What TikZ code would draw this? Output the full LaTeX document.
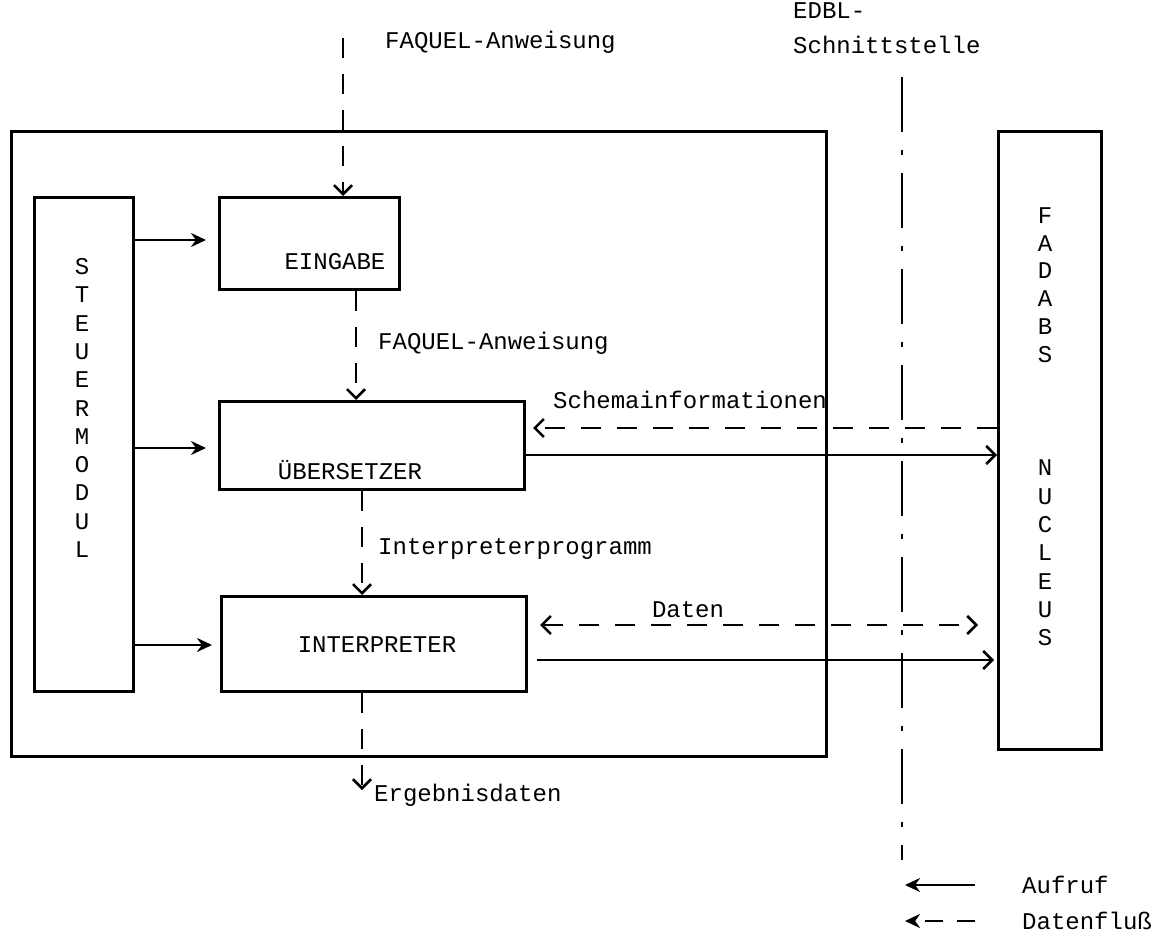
\documentclass[tikz,border=0pt]{standalone}
\usepackage{fontspec}
\setmonofont{Liberation Mono}
\usetikzlibrary{arrows.meta}
\begin{document}
\begin{tikzpicture}[x=1pt,y=-1pt,
  box/.style={draw, line width=2.8pt, inner sep=0pt, anchor=north west},
  lbl/.style={font=\ttfamily\fontsize{24}{28}\selectfont, inner sep=0pt},
  vlbl/.style={font=\ttfamily\fontsize{24}{28}\selectfont, inner sep=0pt, align=center},
  call/.style={line width=2.6pt, -{Stealth[length=15pt,width=14pt]}},
  callb/.style={line width=2.6pt, -{Straight Barb[length=9pt,width=18pt,line width=2.6pt]}},
  flow/.style={line width=2.6pt, dash pattern=on 20pt off 16pt, -{Straight Barb[length=9pt,width=18pt,line width=2.6pt]}},
  flow2/.style={line width=2.6pt, dash pattern=on 20pt off 16pt, {Straight Barb[length=9pt,width=18pt,line width=2.6pt]}-{Straight Barb[length=9pt,width=18pt,line width=2.6pt]}},
  iface/.style={line width=2.8pt, dash pattern=on 55pt off 18pt on 5pt off 18pt}]
\useasboundingbox (0,0) rectangle (1172,949);

% boxes
\node[box, minimum width=815pt, minimum height=625pt] (outer) at (10,130) {};
\node[box, minimum width=99pt, minimum height=494pt] (steuer) at (33,196) {};
\node[box, minimum width=180pt, minimum height=92pt] (eingabe) at (218,196) {};
\node[box, minimum width=305pt, minimum height=88pt] (uebers) at (218,400) {};
\node[box, minimum width=305pt, minimum height=95pt] (interp) at (220,595) {};
\node[box, minimum width=103pt, minimum height=618pt] (fadabs) at (997,130) {};

% box labels
\node[lbl] (teingabe) at (335,262) {EINGABE};
\node[lbl] (tuebers) at (350,470) {ÜBERSETZER};
\node[lbl] (tinterp) at (377,645) {INTERPRETER};
\node[vlbl, font=\ttfamily\fontsize{24}{28.3}\selectfont] (tsteuer) at (82,408) {S\\T\\E\\U\\E\\R\\M\\O\\D\\U\\L};
\node[vlbl, font=\ttfamily\fontsize{24}{27.8}\selectfont] (tfadabs) at (1045,285) {F\\A\\D\\A\\B\\S};
\node[vlbl, font=\ttfamily\fontsize{24}{28.3}\selectfont] (tnucleus) at (1045,553) {N\\U\\C\\L\\E\\U\\S};

% interface line
\coordinate (ifTop) at (902,77);
\coordinate (ifBot) at (902,860);
\draw[iface] (ifTop) -- (ifBot);
\node[lbl, anchor=north west, align=left, font=\ttfamily\fontsize{24}{35}\selectfont] (tedbl) at (793,2) {EDBL-\\Schnittstelle};

% control arrows from STEUERMODUL
\draw[call] (steuer.east |- 0,240) -- ([xshift=-12pt]eingabe.west |- 0,240);
\draw[call] (steuer.east |- 0,448) -- ([xshift=-12pt]uebers.west |- 0,448);
\draw[call] (steuer.east |- 0,645) -- ([xshift=-8pt]interp.west |- 0,645);

% vertical data flow
\coordinate (inTop) at (343,38);
\draw[flow] (inTop) -- (eingabe.north -| inTop);
\node[lbl, anchor=west] (tfaq1) at (385,42) {FAQUEL-Anweisung};
\draw[flow] (eingabe.south -| 356,0) -- (uebers.north -| 356,0);
\node[lbl, anchor=west] (tfaq2) at (378,343) {FAQUEL-Anweisung};
\draw[flow] (uebers.south -| 362,0) -- (interp.north -| 362,0);
\node[lbl, anchor=west] (tinterprog) at (378,549) {Interpreterprogramm};
\coordinate (outBot) at (362,790);
\draw[flow] (interp.south -| outBot) -- (outBot);
\node[lbl, anchor=west] (terg) at (374,795) {Ergebnisdaten};

% to/from FADABS NUCLEUS
\draw[flow] (fadabs.west |- 0,428) -- (533,428);
\node[lbl, anchor=west] (tschema) at (553,400) {Schemainformationen};
\draw[callb] (uebers.east |- 0,455) -- (fadabs.west |- 0,455);
\draw[flow2] (540,625) -- (978,625);
\node[lbl] (tdaten) at (688,610) {Daten};
\draw[callb] (537,660) -- ([xshift=-3pt]fadabs.west |- 0,660);

% legend
\node[lbl, anchor=west] (taufruf) at (1022,885) {Aufruf};
\coordinate (leg1) at (905,885);
\draw[call] ([xshift=-47pt]taufruf.west) -- (leg1);
\node[lbl, anchor=west] (tdatenfl) at (1022,921) {Datenfluß};
\coordinate (leg2) at (905,921);
\draw[line width=2.8pt, dash pattern=on 18pt off 14pt, -{Stealth[length=15pt,width=14pt]}] ([xshift=-47pt]tdatenfl.west) -- (leg2);
\end{tikzpicture}
\end{document}
